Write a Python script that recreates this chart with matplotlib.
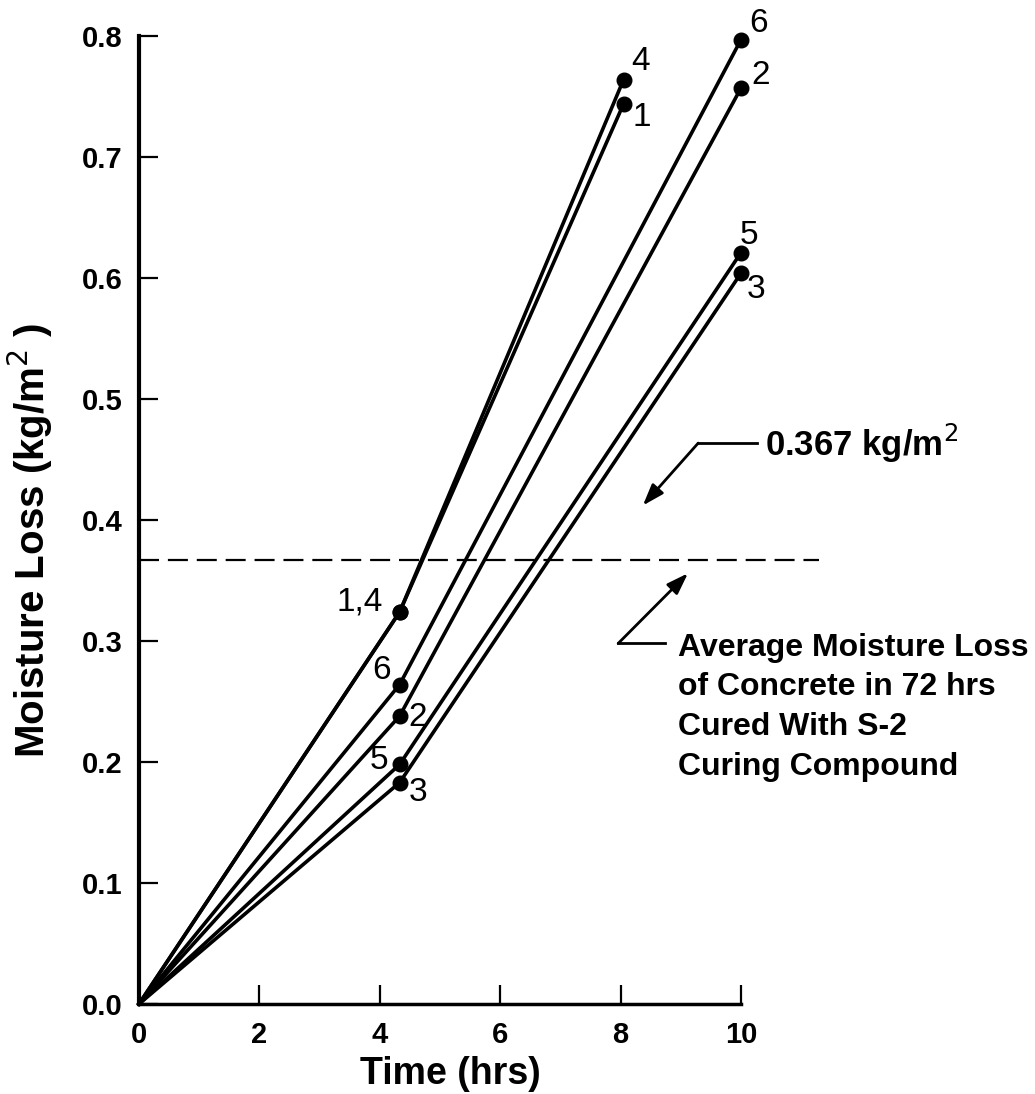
import matplotlib
matplotlib.use("Agg")
import matplotlib.pyplot as plt

plt.rcParams['font.family'] = ['Liberation Sans', 'DejaVu Sans']

# readings: (0,0) -> mid point -> end point
series_ids = ['1', '2', '3', '4', '5', '6']
times_1 = [0, 4.33, 8.05]
times_4 = [0, 4.33, 8.05]
times_2 = [0, 4.33, 10.0]
times_3 = [0, 4.33, 10.0]
times_5 = [0, 4.33, 10.0]
times_6 = [0, 4.33, 10.0]
loss_1 = [0.0, 0.324, 0.744]
loss_4 = [0.0, 0.324, 0.764]
loss_6 = [0.0, 0.264, 0.797]
loss_2 = [0.0, 0.238, 0.757]
loss_5 = [0.0, 0.198, 0.621]
loss_3 = [0.0, 0.183, 0.604]
avg_loss = 0.367

x_ticks = [0, 2, 4, 6, 8, 10]
y_ticks = [0.0, 0.1, 0.2, 0.3, 0.4, 0.5, 0.6, 0.7, 0.8]

data = {
    '1': (times_1, loss_1),
    '2': (times_2, loss_2),
    '3': (times_3, loss_3),
    '4': (times_4, loss_4),
    '5': (times_5, loss_5),
    '6': (times_6, loss_6),
}

# label offsets (points) for end point and mid point
end_off = {'4': (12, 13), '1': (13, -10), '6': (13, 12),
           '2': (14, 9), '5': (6, 12), '3': (11, -12)}
mid_labels = [('1,4', '1', (-29, 7)), ('6', '6', (-13, 10)), ('2', '2', (13, -1)),
              ('5', '5', (-15, 3)), ('3', '3', (13, -7))]

fig = plt.figure(figsize=(10.35, 10.94), dpi=100)
ax = fig.add_axes([0.1343, 0.0823, 0.5816, 0.8847])

for sid in series_ids:
    t, v = data[sid]
    ax.plot(t, v, color='black', lw=2.6, clip_on=False, zorder=3)
    ax.plot(t[1:], v[1:], 'o', color='black', ms=10.5, clip_on=False, zorder=4)
    ax.annotate(sid, (t[-1], v[-1]), xytext=end_off[sid], textcoords='offset points',
                ha='center', va='center', fontsize=24, annotation_clip=False)

for text, sid, off in mid_labels:
    t, v = data[sid]
    ax.annotate(text, (t[1], v[1]), xytext=off, textcoords='offset points',
                ha='center', va='center', fontsize=24, annotation_clip=False)

ax.plot([0, 11.3], [avg_loss, avg_loss], color='black', lw=1.6,
        dashes=(9, 4), clip_on=False)

# pointer to the dashed line, upper one
ax.plot([10.27, 9.29], [0.4636, 0.4636], color='black', lw=2, clip_on=False)
ax.annotate('', xy=(8.37, 0.412), xytext=(9.29, 0.4636), annotation_clip=False,
            arrowprops=dict(arrowstyle='-|>,head_length=1.3,head_width=0.45',
                            color='black', lw=2, shrinkA=0, shrinkB=0))
ax.text(10.4, 0.4636, '0.367 kg/m$^2$', fontsize=25, fontweight='bold',
        va='center', ha='left')

# pointer, lower one
ax.plot([8.74, 7.96], [0.298, 0.298], color='black', lw=2, clip_on=False)
ax.annotate('', xy=(9.12, 0.356), xytext=(7.96, 0.298), annotation_clip=False,
            arrowprops=dict(arrowstyle='-|>,head_length=1.3,head_width=0.45',
                            color='black', lw=2, shrinkA=0, shrinkB=0))
ax.text(8.95, 0.307, 'Average Moisture Loss\nof Concrete in 72 hrs\nCured With S-2\nCuring Compound',
        fontsize=23, fontweight='bold', va='top', ha='left', linespacing=1.42)

ax.set_xlim(0, 10)
ax.set_ylim(0, 0.8)
ax.set_xticks(x_ticks)
ax.set_yticks(y_ticks)
ax.set_xticklabels([str(x) for x in x_ticks], fontsize=21, fontweight='bold')
ax.set_yticklabels(['%.1f' % y for y in y_ticks], fontsize=21, fontweight='bold')
ax.tick_params(direction='in', length=14, width=1.6)
ax.tick_params(axis='y', pad=12)
ax.tick_params(axis='x', pad=12)
ax.spines['top'].set_visible(False)
ax.spines['right'].set_visible(False)
ax.spines['left'].set_linewidth(3)
ax.spines['bottom'].set_linewidth(2.5)

ax.set_xlabel('Time (hrs)', fontsize=27, fontweight='bold')
ax.set_ylabel('Moisture Loss (kg/m$^2$ )', fontsize=29, fontweight='bold')
ax.xaxis.set_label_coords(0.518, -0.054)
ax.yaxis.set_label_coords(-0.14, 0.479)

fig.savefig('out.png', dpi=100)
